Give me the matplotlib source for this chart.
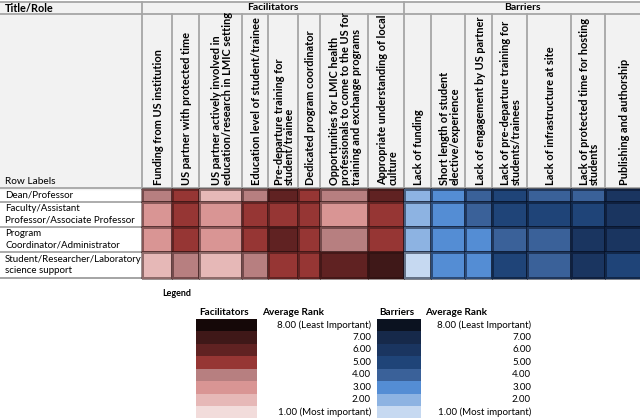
import matplotlib
matplotlib.use("Agg")
import matplotlib.pyplot as plt
import numpy as np
from matplotlib.colors import ListedColormap, BoundaryNorm

# ---------------- data ----------------
roles = ["Dean/Professor",
         "Faculty/Assistant\nProfessor/Associate Professor",
         "Program\nCoordinator/Administrator",
         "Student/Researcher/Laboratory\nscience support"]

facilitators = ["Funding from US institution",
                "US partner with protected time",
                "US partner actively involved in\neducation/research in LMIC setting",
                "Education level of student/trainee",
                "Pre-departure training for\nstudent/trainee",
                "Dedicated program coordinator",
                "Opportunities for LMIC health\nprofessionals to come to the US for\ntraining and exchange programs",
                "Appropriate understanding of local\nculture"]

barriers = ["Lack of funding",
            "Short length of student\nelective/experience",
            "Lack of engagement by US partner",
            "Lack of pre-departure training for\nstudents/trainees",
            "Lack of infrastructure at site",
            "Lack of protected time for hosting\nstudents",
            "Publishing and authorship"]

fac_values = [[4, 5, 2, 4, 6, 5, 4, 6],
              [3, 5, 3, 5, 5, 5, 3, 5],
              [3, 5, 3, 5, 6, 5, 4, 5],
              [2, 4, 2, 4, 5, 5, 6, 7]]

bar_values = [[2, 3, 4, 5, 4, 4, 6],
              [2, 3, 4, 5, 5, 5, 6],
              [2, 3, 3, 4, 4, 6, 6],
              [1, 3, 3, 5, 4, 6, 5]]

legend_ranks = [8, 7, 6, 5, 4, 3, 2, 1]
legend_labels = ["8.00 (Least Important)", "7.00", "6.00", "5.00",
                 "4.00", "3.00", "2.00", "1.00 (Most important)"]

# ---------------- styles ----------------
fac_colors = ["#f2dcdb", "#e6b8b7", "#d99594", "#b77f80",
              "#963634", "#602222", "#3f1818", "#150808"]
bar_colors = ["#c6d9f1", "#8db3e2", "#548dd4", "#3a6199",
              "#1f4478", "#1a3560", "#16294a", "#0b1220"]
fac_cmap = ListedColormap(fac_colors)
bar_cmap = ListedColormap(bar_colors)
norm = BoundaryNorm(np.arange(0.5, 9.5, 1), 8)

FONT = "Lato"
grid_c = "#a6a6a6"

fig = plt.figure(figsize=(6.4, 4.18), dpi=100)
ax = fig.add_axes([0, 0, 1, 1])
ax.set_xlim(0, 640)
ax.set_ylim(418, 0)
ax.axis("off")

# layout (pixels)
fac_edges = [142, 172, 199, 242, 268, 298, 320, 368, 404]
bar_edges = [404, 431, 465, 492, 527, 571, 605, 641]
row_edges = [189, 202, 227, 252, 278]
top, sub, hdr_bot = 2, 14, 189

# header background
ax.add_patch(plt.Rectangle((0, top), 641, hdr_bot - top, color="#f2f2f2", zorder=0))

# heatmap cells
ax.pcolormesh(fac_edges, row_edges, np.array(fac_values, float), cmap=fac_cmap, norm=norm,
              edgecolors=(0.15, 0.05, 0.05, 0.45), linewidth=0.8, zorder=2)
ax.pcolormesh(bar_edges, row_edges, np.array(bar_values, float), cmap=bar_cmap, norm=norm,
              edgecolors=(0.02, 0.05, 0.12, 0.5), linewidth=0.8, zorder=2)

# grid lines
lw = 1.3
ax.plot([0, 641], [top, top], color=grid_c, lw=lw, zorder=1)
ax.plot([0, 641], [sub, sub], color=grid_c, lw=lw, zorder=1)
ax.plot([0, 641], [hdr_bot - 1, hdr_bot - 1], color=grid_c, lw=lw, zorder=1)
for x in [142, 404]:
    ax.plot([x, x], [top, hdr_bot], color=grid_c, lw=lw, zorder=1)
for x in fac_edges[1:-1] + bar_edges[1:-1]:
    ax.plot([x, x], [sub, hdr_bot], color=grid_c, lw=lw, zorder=1)
for y in row_edges[1:]:
    ax.plot([0, 142], [y, y], color=grid_c, lw=lw, zorder=1)
ax.plot([0, 641], [278, 278], color=grid_c, lw=lw, zorder=1)

# header texts
ax.text(5, 8, "Title/Role", fontsize=7.8, fontweight="bold", family=FONT, va="center", ha="left")
ax.text((fac_edges[0] + fac_edges[-1]) / 2, 8, "Facilitators", fontsize=7.5, fontweight="bold",
        family=FONT, va="center", ha="center")
ax.text((bar_edges[0] + bar_edges[-1] - 1) / 2, 8, "Barriers", fontsize=7.5, fontweight="bold",
        family=FONT, va="center", ha="center")
ax.text(5, 182, "Row Labels", fontsize=7.3, family=FONT, va="center", ha="left")

for labels, edges in [(facilitators, fac_edges), (barriers, bar_edges)]:
    for i, lab in enumerate(labels):
        cx = (edges[i] + edges[i + 1]) / 2 + 1.5
        ax.text(cx, 185, lab, rotation=90, fontsize=7.9, fontweight="bold", family=FONT,
                ha="center", va="bottom", multialignment="left", linespacing=0.95)

# row labels
for i, r in enumerate(roles):
    cy = (row_edges[i] + row_edges[i + 1]) / 2
    ax.text(5, cy, r, fontsize=7, family=FONT, va="center", ha="left", linespacing=1.3)

# legend
ax.text(162, 293, "Legend", fontsize=6.5, fontweight="bold", family=FONT, va="center", ha="left")
leg_edges_y = np.linspace(318.5, 418.5, 9)
col = np.array(legend_ranks, float).reshape(-1, 1)
ax.pcolormesh([196, 257], leg_edges_y, col, cmap=fac_cmap, norm=norm, zorder=2)
ax.pcolormesh([377, 421], leg_edges_y, col, cmap=bar_cmap, norm=norm, zorder=2)

ax.text(224, 312.5, "Facilitators", fontsize=7.2, fontweight="bold", family=FONT, va="center", ha="center")
ax.text(262, 312.5, "Average Rank", fontsize=7.2, fontweight="bold", family=FONT, va="center", ha="left")
ax.text(397, 312.5, "Barriers", fontsize=7.2, fontweight="bold", family=FONT, va="center", ha="center")
ax.text(425, 312.5, "Average Rank", fontsize=7.2, fontweight="bold", family=FONT, va="center", ha="left")
for i, lab in enumerate(legend_labels):
    cy = (leg_edges_y[i] + leg_edges_y[i + 1]) / 2
    ax.text(371, cy, lab, fontsize=7, family=FONT, va="center", ha="right")
    ax.text(531, cy, lab, fontsize=7, family=FONT, va="center", ha="right")

fig.savefig("out.png", dpi=100, facecolor="white")
